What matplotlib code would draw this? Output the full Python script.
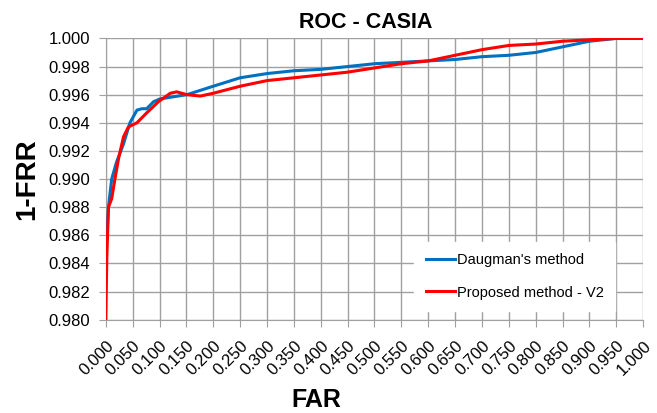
import numpy as np
import matplotlib
matplotlib.use("Agg")
import matplotlib.pyplot as plt

plt.rcParams['font.family'] = ['Liberation Sans', 'DejaVu Sans']

# Daugman's method (FAR, 1-FRR)
far_daugman = [0.0, 0.002, 0.005, 0.011, 0.02, 0.033, 0.045, 0.058, 0.067, 0.076,
               0.089, 0.101, 0.151, 0.2, 0.25, 0.3, 0.35, 0.4, 0.45, 0.5, 0.55,
               0.6, 0.65, 0.7, 0.75, 0.8, 0.85, 0.9, 0.95, 1.0]
frr_daugman = [0.9842, 0.9860, 0.9880, 0.9900, 0.9912, 0.9925, 0.9940, 0.9949, 0.9950, 0.9950,
               0.9955, 0.9957, 0.9960, 0.9966, 0.9972, 0.9975, 0.9977, 0.9978, 0.9980, 0.9982,
               0.9983, 0.9984, 0.9985, 0.9987, 0.9988, 0.9990, 0.9994, 0.9998, 1.0000, 1.0000]

# Proposed method - V2
far_proposed = [0.0, 0.002, 0.005, 0.011, 0.017, 0.024, 0.033, 0.042, 0.058, 0.076,
                0.098, 0.12, 0.132, 0.151, 0.176, 0.2, 0.25, 0.3, 0.35, 0.4, 0.45,
                0.5, 0.55, 0.6, 0.65, 0.7, 0.75, 0.8, 0.85, 0.9, 0.95, 1.0]
frr_proposed = [0.9800, 0.9845, 0.9880, 0.9886, 0.9900, 0.9915, 0.9930, 0.9937, 0.9940, 0.9947,
                0.9955, 0.9961, 0.9962, 0.9960, 0.9959, 0.9961, 0.9966, 0.9970, 0.9972, 0.9974, 0.9976,
                0.9979, 0.9982, 0.9984, 0.9988, 0.9992, 0.9995, 0.9996, 0.9998, 0.9999, 1.0000, 1.0000]

x_ticks = np.arange(0, 1.0001, 0.05)
y_ticks = np.arange(0.980, 1.0001, 0.002)

fig = plt.figure(figsize=(6.57, 4.13), dpi=100)
ax = fig.add_axes([0.161, 0.226, 0.818, 0.681])

ax.plot(far_daugman, frr_daugman, color='#0070C0', lw=2.2, label="Daugman's method", zorder=3)
ax.plot(far_proposed, frr_proposed, color='#FF0000', lw=2.2, label='Proposed method - V2', zorder=4)

ax.set_xlim(0, 1)
ax.set_ylim(0.980, 1.000)
ax.set_xticks(x_ticks)
ax.set_xticklabels([f'{v:.3f}' for v in x_ticks], rotation=45, ha='right', va='top',
                   rotation_mode='anchor', fontsize=12)
ax.set_yticks(y_ticks)
ax.set_yticklabels([f'{v:.3f}' for v in y_ticks], fontsize=12)
ax.grid(True, color='#a0a0a0', lw=1.0)
ax.set_axisbelow(True)
for s in ax.spines.values():
    s.set_visible(False)
ax.spines['left'].set_visible(True)
ax.spines['bottom'].set_visible(True)
ax.spines['left'].set_color('#a0a0a0')
ax.spines['bottom'].set_color('#a0a0a0')
ax.tick_params(axis='both', length=5, color='#a0a0a0')
ax.tick_params(axis='y', pad=6)
ax.tick_params(axis='x', pad=8)

fig.text(0.557, 0.932, 'ROC - CASIA', fontsize=15.5, fontweight='bold',
         ha='center', va='baseline')
fig.text(0.481, 0.014, 'FAR', fontsize=18, fontweight='bold',
         ha='center', va='baseline')
ax.set_ylabel('1-FRR', fontsize=20, fontweight='bold', labelpad=6)

leg = ax.legend(loc='lower right', bbox_to_anchor=(0.948, 0.03), fontsize=10.5,
                frameon=True, fancybox=False, borderpad=0.8, labelspacing=1.25,
                handlelength=2.0, handletextpad=0.1, borderaxespad=0)
leg.get_frame().set_edgecolor('white')
leg.get_frame().set_facecolor('white')
leg.get_frame().set_alpha(1.0)

fig.savefig('out.png', dpi=100)
